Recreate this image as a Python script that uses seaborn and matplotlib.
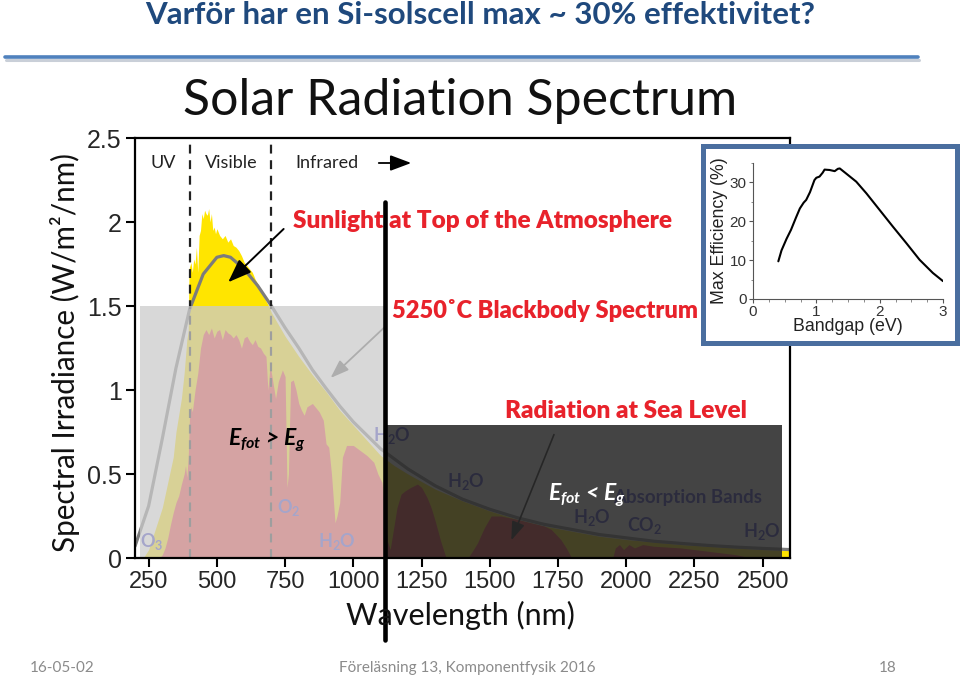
import numpy as np
import pandas as pd
import seaborn as sns
import matplotlib
matplotlib.use("Agg")
import matplotlib.pyplot as plt
from matplotlib import font_manager
from matplotlib.patches import Rectangle, FancyArrowPatch
from matplotlib.lines import Line2D

# ---------------- data ----------------
wl_top = [200, 230, 250, 280, 300, 320, 340, 350, 360, 370,
          380, 390, 395, 398, 405, 410, 415, 420, 425, 430,
          435, 440, 445, 450, 455, 460, 465, 470, 475, 480,
          485, 490, 495, 500, 510, 520, 530, 540, 550, 560,
          570, 580, 590, 600, 610, 620, 630, 640, 650, 660,
          670, 680, 690, 700, 750, 800, 850, 900, 950, 1000,
          1050, 1100, 1150, 1200, 1300, 1400, 1500, 1600, 1700, 1800,
          1900, 2000, 2100, 2200, 2300, 2400, 2500, 2600]
irr_top = [0, 0, 0.05, 0.2, 0.3, 0.45, 0.6, 0.75, 0.85, 0.95,
           1.1, 1.3, 1.35, 1.72, 1.76, 1.7, 1.78, 1.75, 1.85, 1.7,
           1.92, 1.95, 2.05, 2.02, 2.07, 2.05, 2.04, 2.08, 2.0, 2.05,
           1.95, 1.97, 1.93, 1.96, 1.92, 1.9, 1.92, 1.88, 1.9, 1.86,
           1.85, 1.83, 1.8, 1.76, 1.74, 1.72, 1.7, 1.66, 1.63, 1.6,
           1.56, 1.53, 1.5, 1.46, 1.32, 1.2, 1.09, 0.99, 0.88, 0.79,
           0.7, 0.61, 0.55, 0.5, 0.41, 0.34, 0.28, 0.23, 0.19, 0.16,
           0.13, 0.11, 0.095, 0.08, 0.07, 0.06, 0.05, 0.045]

wl_sea = [290, 300, 310, 320, 330, 340, 350, 360, 370, 380,
          385, 390, 395, 400, 405, 410, 420, 430, 440, 450,
          460, 470, 480, 490, 500, 510, 520, 530, 540, 550,
          560, 570, 580, 590, 600, 610, 620, 630, 640, 650,
          660, 670, 680, 687, 695, 705, 715, 725, 740, 750,
          757, 762, 770, 780, 790, 800, 810, 820, 830, 850,
          860, 875, 890, 900, 910, 920, 933, 940, 950, 960,
          975, 1000, 1025, 1050, 1075, 1090, 1105, 1115, 1125, 1135,
          1145, 1160, 1175, 1190, 1210, 1235, 1250, 1270, 1285, 1300,
          1320, 1340, 1420, 1440, 1455, 1480, 1505, 1540, 1600, 1650,
          1700, 1725, 1760, 1780, 1800, 1950, 1960, 1975, 1990, 2010,
          2030, 2060, 2100, 2200, 2300, 2400, 2460, 2600]
irr_sea = [0, 0.02, 0.06, 0.12, 0.2, 0.27, 0.33, 0.37, 0.44, 0.5,
           0.55, 0.48, 0.6, 0.86, 0.9, 0.87, 1.0, 1.1, 1.25, 1.33,
           1.36, 1.33, 1.37, 1.31, 1.35, 1.36, 1.3, 1.36, 1.34, 1.33,
           1.31, 1.33, 1.3, 1.25, 1.31, 1.32, 1.29, 1.27, 1.3, 1.26,
           1.25, 1.22, 1.2, 1.0, 1.15, 1.05, 0.95, 1.05, 1.12, 1.08,
           0.42, 0.5, 1.05, 1.06, 1.0, 0.92, 0.88, 0.85, 0.9, 0.92,
           0.9, 0.87, 0.82, 0.68, 0.66, 0.5, 0.21, 0.25, 0.33, 0.6,
           0.67, 0.67, 0.64, 0.61, 0.57, 0.5, 0.45, 0.3, 0.1, 0.05,
           0.15, 0.3, 0.38, 0.4, 0.42, 0.44, 0.42, 0.36, 0.3, 0.22,
           0.1, 0, 0, 0.05, 0.09, 0.18, 0.25, 0.25, 0.23, 0.21,
           0.19, 0.17, 0.11, 0.06, 0, 0, 0.06, 0.08, 0.05, 0.08,
           0.06, 0.08, 0.07, 0.06, 0.04, 0.02, 0, 0]

wl_bb = [200, 250, 300, 350, 400, 450, 500, 525, 550, 600,
         650, 700, 750, 800, 850, 900, 950, 1000, 1050, 1100,
         1150, 1200, 1300, 1400, 1500, 1600, 1700, 1800, 1900, 2000,
         2100, 2200, 2300, 2400, 2500, 2600]
irr_bb = [0.07, 0.31, 0.71, 1.13, 1.48, 1.69, 1.79, 1.80, 1.79, 1.72,
          1.62, 1.50, 1.37, 1.25, 1.12, 1.01, 0.905, 0.81, 0.73, 0.65,
          0.59, 0.53, 0.43, 0.35, 0.29, 0.24, 0.20, 0.17, 0.14, 0.12,
          0.10, 0.087, 0.075, 0.065, 0.057, 0.05]

bandgap_ev = [0.40, 0.45, 0.53, 0.60, 0.68, 0.74, 0.80, 0.84, 0.90, 0.97,
              1.00, 1.05, 1.10, 1.13, 1.21, 1.29, 1.34, 1.37, 1.47, 1.63,
              1.79, 2.00, 2.21, 2.42, 2.63, 2.84, 3.00]
max_eff = [9.7, 12.5, 15.5, 17.8, 21.0, 23.3, 24.8, 25.5, 27.5, 30.6,
           31.2, 31.5, 32.5, 33.3, 33.2, 32.9, 33.5, 33.6, 32.3, 30.2,
           27.2, 22.9, 18.6, 14.4, 10.1, 6.7, 4.6]

x_ticks = [250, 500, 750, 1000, 1250, 1500, 1750, 2000, 2250, 2500]
y_ticks = [0, 0.5, 1, 1.5, 2, 2.5]
y_tick_labels = ["0", "0.5", "1", "1.5", "2", "2.5"]
band_edges_nm = [400, 700]
si_edge_nm = 1117
inset_x_ticks = [0, 1, 2, 3]
inset_y_ticks = [0, 10, 20, 30]

# ---------------- style ----------------
sns.set_theme(style="white")
plt.rcParams["font.family"] = ["Lato", "DejaVu Sans"]
plt.rcParams["mathtext.fontset"] = "custom"
plt.rcParams["mathtext.it"] = "Lato:italic:bold"
plt.rcParams["mathtext.rm"] = "Lato:bold"
plt.rcParams["mathtext.bf"] = "Lato:bold"


def has_font(name):
    try:
        font_manager.findfont(font_manager.FontProperties(family=name),
                              fallback_to_default=False)
        return True
    except Exception:
        return False


NARROW = "Liberation Sans Narrow" if has_font("Liberation Sans Narrow") else "Liberation Sans"
ARIAL = "Liberation Sans"

W, H = 960, 679
fig = plt.figure(figsize=(W / 100, H / 100), dpi=100)
fig.patch.set_facecolor("white")


def fx(px):
    return px / W


def fy(py):
    return 1 - py / H


RED = "#E8222B"
LAV = "#3A3AC8"

# ---------------- main axes ----------------
ax = fig.add_axes([fx(135), fy(558), 655 / W, 420 / H])
ax.set_xlim(200, 2600)
ax.set_ylim(0, 2.5)
ax.set_facecolor("white")

ax.fill_between(wl_top, irr_top, color="#FFE500", lw=0, zorder=1)
ax.fill_between(wl_sea, irr_sea, color="#F53535", lw=0, zorder=2)
sns.lineplot(x=wl_bb, y=irr_bb, ax=ax, color="#7C7C7C", lw=2.3, zorder=3,
             sort=True, estimator=None)

for b in band_edges_nm:
    ax.axvline(b, ymin=0, ymax=0.985, color="#222222", lw=1.6, ls=(0, (4, 3)), zorder=3)


def ftext(px, py, s, **kw):
    ax.text(fx(px), fy(py), s, transform=fig.transFigure, ha="center", va="center", **kw)


# pale absorption labels (under the overlays)
lab = dict(fontsize=13, fontweight="bold", color=LAV, zorder=3)
ftext(152, 541, r"O$_\mathregular{3}$", **lab)
ftext(289, 507, r"O$_\mathregular{2}$", **lab)
ftext(337, 541, r"H$_\mathregular{2}$O", **lab)
ftext(392, 436, r"H$_\mathregular{2}$O", **lab)
ftext(466, 482, r"H$_\mathregular{2}$O", **lab)
ftext(592, 518, r"H$_\mathregular{2}$O", **lab)
ftext(645, 525, r"CO$_\mathregular{2}$", **lab)
ftext(762, 532, r"H$_\mathregular{2}$O", **lab)
ftext(688, 498, "Absorption Bands", fontsize=13.5, fontweight="bold", color=LAV, zorder=3)

# arrows under overlays
ax.annotate("", xy=(909, 1.06), xytext=(1125, 1.39),
            arrowprops=dict(arrowstyle="-|>,head_length=0.7,head_width=0.25",
                            color="#5A5A5A", lw=1.3, mutation_scale=16), zorder=3)
ax.annotate("", xy=(1575, 0.09), xytext=(1739, 0.75),
            arrowprops=dict(arrowstyle="-|>,head_length=0.7,head_width=0.25",
                            color="#111111", lw=1.2, mutation_scale=16), zorder=3)

# overlays
ax.add_patch(Rectangle((217, 0), si_edge_nm - 217, 1.5, facecolor="#CBCBCB",
                       alpha=0.74, lw=0, zorder=4))
ax.add_patch(Rectangle((si_edge_nm, 0), 2572 - si_edge_nm, 0.79, facecolor="#2A2A2A",
                       alpha=0.88, lw=0, zorder=4))

# black arrow for sunlight label
ax.annotate("", xy=(534, 1.63), xytext=(752, 1.97),
            arrowprops=dict(arrowstyle="-|>,head_length=0.8,head_width=0.3",
                            color="black", lw=1.4, mutation_scale=18), zorder=5)

# vertical Si band-edge line
ax.axvline(si_edge_nm, ymin=(558 - 640) / 420, ymax=(558 - 202) / 420,
           color="black", lw=3.3, clip_on=False, zorder=8)

# axes styling
ax.set_xticks(x_ticks)
ax.set_xticklabels([str(t) for t in x_ticks], fontfamily=NARROW, fontsize=17)
ax.set_yticks(y_ticks)
ax.set_yticklabels(y_tick_labels, fontfamily=ARIAL, fontsize=18)
ax.tick_params(axis="both", direction="out", length=6.5, width=1.5, color="black",
               bottom=True, left=True, top=False, right=False, pad=3)
for s in ax.spines.values():
    s.set_color("black")
    s.set_linewidth(1.6)
    s.set_zorder(7)
ax.set_xlabel("")
ax.set_ylabel("")
ax.grid(False)

# labels inside main plot (figure-pixel positions)
fig.text(fx(163), fy(163), "UV", fontsize=13, ha="center", va="center", color="#222")
fig.text(fx(231), fy(163), "Visible", fontsize=13, ha="center", va="center", color="#222")
fig.text(fx(327), fy(163), "Infrared", fontsize=13, ha="center", va="center", color="#222")
fig.add_artist(FancyArrowPatch(
    (fx(376), fy(163)), (fx(414), fy(163)), transform=fig.transFigure,
    arrowstyle="-|>,head_length=0.8,head_width=0.3", mutation_scale=16,
    color="black", lw=1.3))

red_kw = dict(transform=fig.transFigure, fontweight="heavy", color=RED,
              ha="left", va="center", zorder=6)
ax.text(fx(293), fy(221), "Sunlight at Top of the Atmosphere", fontsize=17.6, **red_kw)
ax.text(fx(392), fy(311), "5250˚C Blackbody Spectrum", fontsize=17.0, **red_kw)
ax.text(fx(505), fy(411), "Radiation at Sea Level", fontsize=17.6, **red_kw)

ax.text(fx(228), fy(440), r"$E_{fot}$ > $E_{g}$", transform=fig.transFigure,
        fontsize=16.5, fontweight="bold", fontstyle="italic", color="black",
        ha="left", va="center", zorder=6)
ax.text(fx(548), fy(495), r"$E_{fot}$ < $E_{g}$", transform=fig.transFigure,
        fontsize=16.5, fontweight="bold", fontstyle="italic", color="white",
        ha="left", va="center", zorder=6)

# axis titles
fig.text(fx(65), fy(352), "Spectral Irradiance (W/m²/nm)", rotation=90,
         fontsize=21.3, ha="center", va="center", color="#111")
fig.text(fx(460), fy(615), "Wavelength (nm)", fontsize=22, ha="center", va="center",
         color="#111")
fig.text(fx(460), fy(101), "Solar Radiation Spectrum", fontsize=36, ha="center",
         va="center", color="#111")

# ---------------- inset ----------------
fig.add_artist(Rectangle((fx(703), fy(343)), 254 / W, 197 / H, transform=fig.transFigure,
                         facecolor="white", edgecolor="#4A6E9F", lw=3.6, zorder=1))
iax = fig.add_axes([fx(753), fy(299), 190 / W, 136 / H])
iax.set_zorder(2)
iax.patch.set_alpha(0)
sns.lineplot(x=bandgap_ev, y=max_eff, ax=iax, color="black", lw=1.5, sort=False,
             estimator=None)
iax.set_xlim(0, 3)
iax.set_ylim(0, 35)
iax.set_xticks(inset_x_ticks)
iax.set_yticks(inset_y_ticks)
iax.set_xticks([0.25 * i for i in range(13)], minor=True)
iax.set_yticks([5 * i for i in range(8)], minor=True)
iax.set_xticklabels([str(t) for t in inset_x_ticks], fontfamily=ARIAL, fontsize=11, color="#333")
iax.set_yticklabels([str(t) for t in inset_y_ticks], fontfamily=ARIAL, fontsize=11, color="#333")
iax.tick_params(axis="both", which="major", direction="out", length=3, width=0.8,
                color="#555", bottom=True, left=True, pad=1.5)
iax.tick_params(axis="both", which="minor", direction="out", length=1.8, width=0.6,
                color="#777", bottom=True, left=True)
for side in ["top", "right"]:
    iax.spines[side].set_visible(False)
for side in ["left", "bottom"]:
    iax.spines[side].set_color("#555")
    iax.spines[side].set_linewidth(0.8)
iax.set_xlabel("Bandgap (eV)", fontfamily=ARIAL, fontsize=12.8, color="#222", labelpad=-1)
iax.set_ylabel("Max Efficiency (%)", fontfamily=ARIAL, fontsize=12.8, color="#222", labelpad=1)
iax.grid(False)

# ---------------- slide decorations ----------------
fig.text(0.5, fy(15), "Varför har en Si-solscell max ~ 30% effektivitet?", fontsize=22.5,
         fontweight="bold", color="#1F497D", ha="center", va="center")
fig.add_artist(Line2D([fx(6), fx(919)], [fy(59.5), fy(59.5)], transform=fig.transFigure,
                      color="#C9CFD8", lw=2.2))
fig.add_artist(Line2D([fx(5), fx(918)], [fy(57), fy(57)], transform=fig.transFigure,
                      color="#4F81BD", lw=2.6))

fig.text(fx(30), fy(668), "16-05-02", fontsize=11, color="#8B8B8B", ha="left", va="center")
fig.text(fx(467), fy(668), "Föreläsning 13, Komponentfysik 2016", fontsize=11,
         color="#8B8B8B", ha="center", va="center")
fig.text(fx(888), fy(668), "18", fontsize=11, color="#8B8B8B", ha="center", va="center")

fig.savefig("out.png", dpi=100, facecolor="white")
